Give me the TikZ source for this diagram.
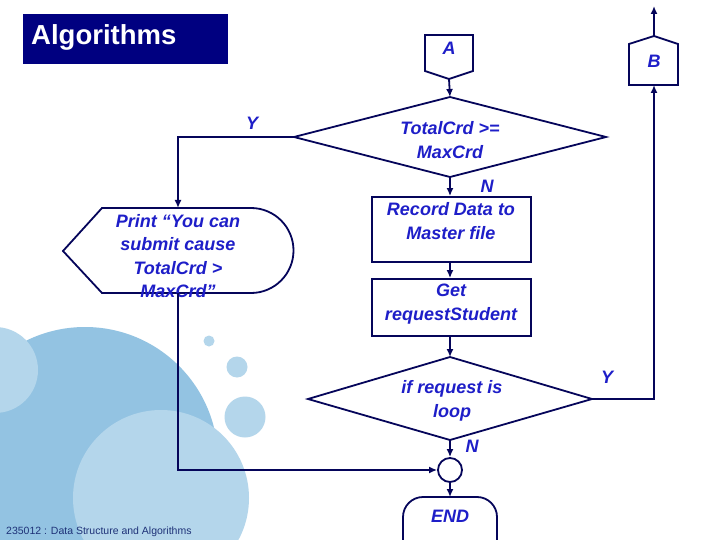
\documentclass[tikz,border=0pt]{standalone}
\usepackage{fontspec}
\setmainfont{Liberation Sans}
\usetikzlibrary{arrows.meta}
\definecolor{navy}{RGB}{0,0,128}
\definecolor{lineblue}{RGB}{5,5,90}
\definecolor{txtblue}{RGB}{30,30,200}
\definecolor{bubdark}{RGB}{147,195,226}
\definecolor{bublight}{RGB}{180,214,235}
\definecolor{footblue}{RGB}{30,50,120}
\tikzset{
  flow/.style={draw=lineblue, line width=1.8pt, line join=miter},
  conn/.style={draw=lineblue, line width=1.8pt, -{Latex[length=8pt,width=7pt]}},
  ftext/.style={text=txtblue, font=\fontsize{18}{23.5}\selectfont\bfseries\itshape, align=center, inner sep=0pt},
  lbl/.style={text=txtblue, font=\fontsize{18}{20}\selectfont\bfseries\itshape, inner sep=0pt},
}
\begin{document}
\begin{tikzpicture}[x=1pt,y=-1pt]
\useasboundingbox (0,0) rectangle (720,540);
\clip (0,0) rectangle (720,540);
\fill[white] (0,0) rectangle (720,540);
% background bubbles
\fill[bubdark] (85,460) circle (133);
\fill[bublight] (-5,370) circle (43);
\fill[bublight] (161,498) circle (88);
\fill[bublight] (209,341) circle (5.5);
\fill[bublight] (237,367) circle (10.5);
\fill[bublight] (245,417) circle (20.5);
% title
\node[fill=navy, minimum width=205pt, minimum height=50pt, inner sep=0pt] (title) at (125.5,39) {};
\node[anchor=west, text=white, font=\fontsize{27.5}{30}\selectfont\bfseries, inner sep=0pt] (titletext) at (31,37) {Algorithms};
% footer
\node[anchor=base west, text=footblue, font=\fontsize{10.5}{12}\selectfont, inner sep=0pt] (footer) at (6,534) {235012 : Data Structure and Algorithms};

% coordinates of shapes
\coordinate (Abot) at (449,79);
\coordinate (d1t) at (450,97);
\coordinate (d1r) at (606,137);
\coordinate (d1b) at (450,177);
\coordinate (d1l) at (294,137);
\coordinate (pt) at (178,208);
\coordinate (pb) at (178,293);
\coordinate (d2t) at (450,357);
\coordinate (d2r) at (592,399);
\coordinate (d2b) at (450,440);
\coordinate (d2l) at (308,399);
\coordinate (Bbot) at (654,85);
\coordinate (Btop) at (654,36);
\coordinate (up) at (654,6);
\coordinate (endtop) at (450,497);

% connector A
\draw[flow] (425,35) -- (473,35) -- (473,71) -- (Abot) -- (425,71) -- cycle;
\node[ftext] (A) at (449,48) {A};
% connector B
\draw[flow] (629,85) -- (678,85) -- (678,44) -- (Btop) -- (629,44) -- cycle;
\node[ftext] (B) at (654,61) {B};
% decision 1
\draw[flow] (d1t) -- (d1r) -- (d1b) -- (d1l) -- cycle;
\node[ftext] (d1) at (450,140) {TotalCrd >=\\MaxCrd};
% display
\draw[flow] (63,251) -- (102,208) -- (251,208) arc[start angle=-90, end angle=90, radius=42.5] -- (102,293) -- cycle;
\node[ftext] (print) at (178,256) {Print “You can\\submit cause\\TotalCrd >\\MaxCrd”};
% record
\node[flow, minimum width=159pt, minimum height=65pt, inner sep=0pt] (rec) at (451.5,229.5) {};
\node[ftext] (rectext) at (451,221) {Record Data to\\Master file};
% get
\node[flow, minimum width=159pt, minimum height=57pt, inner sep=0pt] (get) at (451.5,307.5) {};
\node[ftext] (gettext) at (451,304) {Get\\requestStudent};
% decision 2
\draw[flow] (d2t) -- (d2r) -- (d2b) -- (d2l) -- cycle;
\node[ftext] (d2) at (452,401) {if request is\\loop};
% join circle
\node[flow, circle, minimum size=24pt, inner sep=0pt] (join) at (450,470) {};
% end terminal
\draw[flow, rounded corners=20pt] (403,497) rectangle (497,575);
\node[ftext] (endt) at (450,516) {END};

% connectors
\draw[conn] (Abot) -- (d1t);
\draw[conn] (d1l) -| (pt);
\node[lbl] (y1) at (252,123) {Y};
\draw[conn] (d1b) -- (rec.north -| d1b);
\node[lbl] (n1) at (487,186) {N};
\draw[conn] (rec.south -| d1b) -- (get.north -| d1b);
\draw[conn] (get.south -| d1b) -- (d2t);
\draw[conn] (d2b) -- (join.north);
\node[lbl] (n2) at (472,446) {N};
\draw[conn] (join.south) -- (endtop);
\draw[conn] (pb) |- (join.west);
\draw[conn] (d2r) -| (Bbot);
\node[lbl] (y2) at (607,377) {Y};
\draw[conn] (Btop) -- (up);
\end{tikzpicture}
\end{document}
